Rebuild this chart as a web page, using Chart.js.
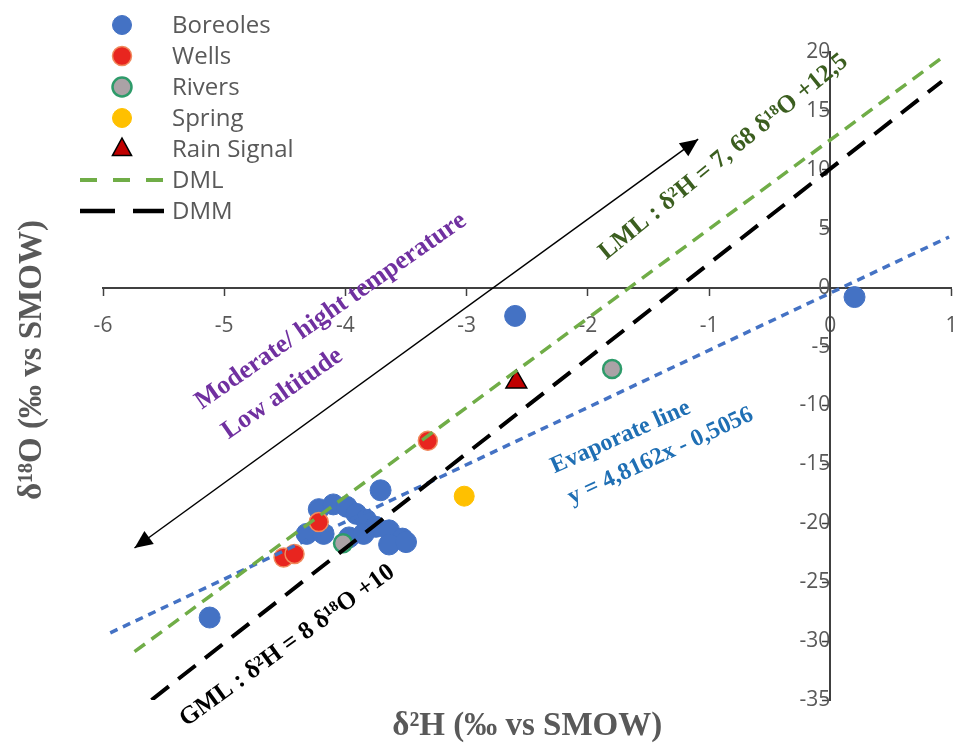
<!DOCTYPE html>
<html>
<head>
<meta charset="utf-8">
<script src="https://cdn.jsdelivr.net/npm/chart.js"></script>
<style>
  html, body { margin: 0; padding: 0; background: #fff; overflow: hidden; }
  #wrap { width: 965px; height: 752px; }
  canvas { display: block; }
</style>
</head>
<body>
<div id="wrap"><canvas id="isoChart"></canvas></div>
<script>
// values
const boreolesX = [0.2, -2.6, -5.12, -3.71, -4.22, -4.10, -3.99, -3.91, -3.83, -3.75, -3.64, -3.53, -4.32, -4.18, -3.97, -3.85, -3.64, -3.50];
const boreolesY = [-0.8, -2.4, -28.0, -17.2, -18.8, -18.4, -18.6, -19.2, -19.7, -20.3, -20.6, -21.3, -20.9, -20.9, -21.2, -20.9, -21.8, -21.6];
const wellsX = [-3.32, -4.22, -4.51, -4.42];
const wellsY = [-13.0, -19.9, -22.9, -22.6];
const riversX = [-1.80, -4.02];
const riversY = [-6.9, -21.7];
const springX = [-3.02];
const springY = [-17.7];
const rainX = [-2.59];
const rainY = [-8.0];

// line end points
const dmlX = [-5.74, 0.92];
const dmlY = [-30.9, 19.5];
const dmmX = [-5.6, 0.92];
const dmmY = [-35.0, 17.5];
const evapX = [-5.94, 0.98];
const evapY = [-29.3, 4.3];
const arrowX = [-5.74, -1.09];
const arrowY = [-22.1, 12.6];

const xRange = [-6, 1];
const yRange = [-35, 20];
const legendLabels = ['Boreoles', 'Wells', 'Rivers', 'Spring', 'Rain Signal', 'DML', 'DMM'];

const pts = (xs, ys) => xs.map((x, i) => ({ x: x, y: ys[i] }));

const datasets = [
  { label: legendLabels[5], type: 'line', data: pts(dmlX, dmlY), borderColor: '#70AD47', borderWidth: 3.5,
    borderDash: [13, 8], pointRadius: 0, showLine: true, order: 0, legendDash: [17, 16], legendRow: 5 },
  { label: legendLabels[6], type: 'line', data: pts(dmmX, dmmY), borderColor: '#000000', borderWidth: 4,
    borderDash: [22, 12], pointRadius: 0, showLine: true, order: 0, legendDash: [35, 18], legendRow: 6 },
  { label: 'Evaporate', type: 'line', data: pts(evapX, evapY), borderColor: '#4472C4', borderWidth: 3.5,
    borderDash: [8, 6], pointRadius: 0, showLine: true, order: 0 },
  { label: 'arrow', type: 'line', data: pts(arrowX, arrowY), borderColor: '#000000', borderWidth: 1.5,
    pointRadius: 0, showLine: true, order: 0 },
  { label: legendLabels[0], data: pts(boreolesX, boreolesY), backgroundColor: '#4472C4', borderColor: '#4472C4',
    borderWidth: 1, pointRadius: 10.5, order: 2, legendRow: 0 },
  { label: legendLabels[1], data: pts(wellsX, wellsY), backgroundColor: '#E8251F', borderColor: '#F08A5D',
    borderWidth: 1.5, pointRadius: 9.5, order: 1, legendRow: 1 },
  { label: legendLabels[2], data: pts(riversX, riversY), backgroundColor: '#ABA2A6', borderColor: '#2E9B6A',
    borderWidth: 2.5, pointRadius: 9, order: 1, legendRow: 2 },
  { label: legendLabels[3], data: pts(springX, springY), backgroundColor: '#FFC000', borderColor: '#FFC000',
    borderWidth: 1, pointRadius: 10, order: 1, legendRow: 3 },
  { label: legendLabels[4], data: pts(rainX, rainY), backgroundColor: '#C00000', borderColor: '#000000',
    borderWidth: 1.5, pointRadius: 12, pointStyle: 'triangle', order: 1, legendRow: 4 }
];

// rotated notes, anchored in data units
const notes = [
  { text: 'LML : δ²H = 7, 68 δ¹⁸O +12,5', x: -0.88, y: 11.1, angle: -39, size: 25, color: '#3B5E1F' },
  { text: 'GML : δ²H = 8 δ¹⁸O +10', x: -4.48, y: -30.4, angle: -36, size: 25, color: '#000000' },
  { text: 'Evaporate line', x: -1.73, y: -12.7, angle: -24, size: 24, color: '#1F6FB4' },
  { text: 'y = 4,8162x - 0,5056', x: -1.40, y: -14.3, angle: -25, size: 24, color: '#1F6FB4' },
  { text: 'Moderate/ hight temperature', x: -4.12, y: -2.0, angle: -35, size: 26, color: '#7030A0' },
  { text: 'Low altitude', x: -4.52, y: -9.0, angle: -35, size: 26, color: '#7030A0' }
];

function drawMarker(ctx, ds, x, y) {
  ctx.fillStyle = ds.backgroundColor;
  ctx.strokeStyle = ds.borderColor;
  ctx.lineWidth = ds.borderWidth;
  ctx.beginPath();
  if (ds.pointStyle === 'triangle') {
    const r = ds.pointRadius;
    ctx.moveTo(x, y - r);
    ctx.lineTo(x + r * 0.87, y + r * 0.6);
    ctx.lineTo(x - r * 0.87, y + r * 0.6);
    ctx.closePath();
  } else {
    ctx.arc(x, y, ds.pointRadius, 0, Math.PI * 2);
  }
  ctx.fill();
  ctx.stroke();
}

const decor = {
  id: 'decor',
  afterDatasetsDraw(chart) {
    const ctx = chart.ctx;
    const i = chart.data.datasets.findIndex(d => d.label === 'arrow');
    const p = chart.getDatasetMeta(i).data;
    const heads = [[p[0], p[1]], [p[1], p[0]]];
    ctx.save();
    ctx.fillStyle = '#000';
    heads.forEach(([tip, from]) => {
      const a = Math.atan2(tip.y - from.y, tip.x - from.x);
      const len = 18, half = 8;
      ctx.beginPath();
      ctx.moveTo(tip.x, tip.y);
      ctx.lineTo(tip.x - len * Math.cos(a) + half * Math.sin(a), tip.y - len * Math.sin(a) - half * Math.cos(a));
      ctx.lineTo(tip.x - len * Math.cos(a) - half * Math.sin(a), tip.y - len * Math.sin(a) + half * Math.cos(a));
      ctx.closePath();
      ctx.fill();
    });
    ctx.restore();
  },
  afterDraw(chart) {
    const ctx = chart.ctx;
    const xs = chart.scales.x, ys = chart.scales.y;

    // legend
    ctx.save();
    chart.data.datasets.filter(d => d.legendRow !== undefined).forEach(ds => {
      const y = 25 + ds.legendRow * 31;
      if (ds.showLine) {
        ctx.strokeStyle = ds.borderColor;
        ctx.lineWidth = ds.borderWidth + 0.5;
        ctx.setLineDash(ds.legendDash);
        ctx.beginPath();
        ctx.moveTo(80, y);
        ctx.lineTo(164, y);
        ctx.stroke();
        ctx.setLineDash([]);
      } else {
        drawMarker(ctx, Object.assign({}, ds, { pointRadius: ds.pointStyle === 'triangle' ? 11 : 9.5 }), 122, y);
      }
      ctx.fillStyle = '#595959';
      ctx.font = '24px "Open Sans"';
      ctx.textAlign = 'left';
      ctx.textBaseline = 'middle';
      ctx.fillText(ds.label, 172, y + 1);
    });
    ctx.restore();

    // axis titles
    ctx.save();
    ctx.fillStyle = '#595959';
    ctx.font = 'bold 33px "Liberation Serif"';
    ctx.textAlign = 'center';
    ctx.textBaseline = 'middle';
    ctx.fillText('δ²H (‰ vs SMOW)', (chart.chartArea.left + chart.chartArea.right) / 2, 726);
    ctx.translate(32, 360);
    ctx.rotate(-Math.PI / 2);
    ctx.fillText('δ¹⁸O (‰ vs SMOW)', 0, 0);
    ctx.restore();

    // notes
    notes.forEach(n => {
      ctx.save();
      ctx.translate(xs.getPixelForValue(n.x), ys.getPixelForValue(n.y));
      ctx.rotate(n.angle * Math.PI / 180);
      ctx.fillStyle = n.color;
      ctx.font = 'bold ' + n.size + 'px "Liberation Serif"';
      ctx.textAlign = 'center';
      ctx.textBaseline = 'middle';
      ctx.fillText(n.text, 0, 0);
      ctx.restore();
    });
  }
};

new Chart(document.getElementById('isoChart'), {
  type: 'scatter',
  data: { datasets: datasets },
  options: {
    responsive: true,
    maintainAspectRatio: false,
    animation: false,
    layout: { padding: { left: 103, right: 10, top: 52, bottom: 52 } },
    plugins: { legend: { display: false }, tooltip: { enabled: false } },
    scales: {
      x: {
        type: 'linear', min: xRange[0], max: xRange[1], position: { y: 0 },
        ticks: { stepSize: 1, color: '#595959', font: { family: 'Open Sans', size: 21, lineHeight: 2.9 }, padding: 1 },
        grid: { drawOnChartArea: false, tickLength: 7, tickColor: '#404040', tickWidth: 1.5 },
        border: { color: '#404040', width: 2 }
      },
      y: {
        type: 'linear', min: yRange[0], max: yRange[1], position: { x: 0 },
        ticks: { stepSize: 5, color: '#595959', font: { family: 'Open Sans', size: 21 }, padding: 14 },
        grid: { drawOnChartArea: false, tickLength: 7, tickColor: '#404040', tickWidth: 1.5 },
        border: { color: '#404040', width: 2 }
      }
    }
  },
  plugins: [decor]
});
</script>
</body>
</html>
